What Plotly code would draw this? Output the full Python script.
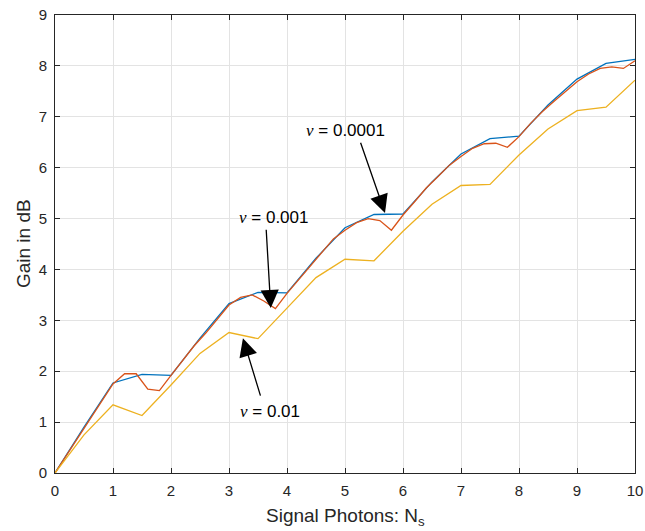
import plotly.graph_objects as go

# nu = 0.0001 (blue), step 0.5
x_blue = [0, 0.5, 1, 1.5, 2, 2.5, 3, 3.5, 4, 4.5, 5, 5.5, 6, 6.5, 7, 7.5, 8, 8.5, 9, 9.5, 10]
y_blue = [0, 0.9, 1.77, 1.94, 1.92, 2.65, 3.33, 3.55, 3.54, 4.22, 4.82, 5.08, 5.09, 5.72, 6.27, 6.57, 6.62, 7.23, 7.74, 8.05, 8.13]

# nu = 0.001 (red), step 0.2
x_red = [round(0.2 * i, 1) for i in range(51)]
y_red = [0, 0.35, 0.72, 1.07, 1.42, 1.75, 1.95, 1.95, 1.65, 1.62, 1.92,
         2.2, 2.5, 2.75, 3.02, 3.3, 3.45, 3.5, 3.38, 3.23, 3.53,
         3.8, 4.07, 4.35, 4.6, 4.77, 4.92, 5.0, 4.96, 4.77, 5.07,
         5.33, 5.6, 5.82, 6.05, 6.22, 6.38, 6.47, 6.48, 6.4, 6.61,
         6.87, 7.1, 7.3, 7.5, 7.69, 7.84, 7.95, 7.98, 7.95, 8.1]

# nu = 0.01 (yellow), step 0.5
x_yel = [0, 0.5, 1, 1.5, 2, 2.5, 3, 3.5, 4, 4.5, 5, 5.5, 6, 6.5, 7, 7.5, 8, 8.5, 9, 9.5, 10]
y_yel = [0, 0.75, 1.34, 1.13, 1.73, 2.35, 2.76, 2.64, 3.24, 3.84, 4.2, 4.17, 4.75, 5.28, 5.65, 5.67, 6.25, 6.76, 7.12, 7.19, 7.72]

x_ticks = list(range(0, 11))
y_ticks = list(range(0, 10))

x_title = "Signal Photons: N<sub>s</sub>"
y_title = "Gain in dB"

# annotation labels
nu_labels = ["0.0001", "0.001", "0.01"]
label_pos = [(5.0, 6.74), (3.76, 5.03), (3.71, 1.2)]
arrow_tail = [(5.26, 6.52), (3.64, 4.81), (3.55, 1.49)]
arrow_head = [(5.69, 5.11), (3.72, 3.24), (3.24, 2.65)]

FONT = "Liberation Sans, Arial, sans-serif"
AX_COLOR = "#262626"

fig = go.Figure()
fig.add_trace(go.Scatter(x=x_blue, y=y_blue, mode="lines", line=dict(color="#0072BD", width=1.3), showlegend=False))
fig.add_trace(go.Scatter(x=x_red, y=y_red, mode="lines", line=dict(color="#D95319", width=1.3), showlegend=False))
fig.add_trace(go.Scatter(x=x_yel, y=y_yel, mode="lines", line=dict(color="#EDB120", width=1.3), showlegend=False))

for lab, (tx, ty), (ax_, ay_), (hx, hy) in zip(nu_labels, label_pos, arrow_tail, arrow_head):
    fig.add_annotation(x=tx, y=ty, xref="x", yref="y", showarrow=False,
                       text='<span style="font-family:Liberation Serif"><i>ν</i></span> = ' + lab,
                       font=dict(family=FONT, size=17, color="#000000"))
    fig.add_annotation(x=hx, y=hy, ax=ax_, ay=ay_, xref="x", yref="y", axref="x", ayref="y",
                       text="", showarrow=True, arrowhead=2, arrowsize=2.8, arrowwidth=1.3,
                       arrowcolor="#000000", standoff=0, startstandoff=0)

# axis titles placed as paper annotations for exact positioning
fig.add_annotation(x=0.5, y=-0.096, xref="paper", yref="paper", showarrow=False,
                   text=x_title, xanchor="center", yanchor="middle",
                   font=dict(family=FONT, size=19, color=AX_COLOR))
fig.add_annotation(x=-0.055, y=0.5, xref="paper", yref="paper", showarrow=False,
                   text=y_title, textangle=-90, xanchor="center", yanchor="middle",
                   font=dict(family=FONT, size=19, color=AX_COLOR))

axis_common = dict(
    showgrid=True, gridcolor="#e3e3e3", gridwidth=1,
    showline=True, linecolor=AX_COLOR, linewidth=1, mirror="ticks",
    ticks="inside", ticklen=5, tickcolor=AX_COLOR,
    zeroline=False, automargin=False,
    tickfont=dict(family=FONT, size=15, color=AX_COLOR),
)

fig.update_xaxes(range=[0, 10], tickvals=x_ticks, ticklabelstandoff=4, **axis_common)
fig.update_yaxes(range=[0, 9], tickvals=y_ticks, ticklabelstandoff=4, **axis_common)

fig.update_layout(
    width=645, height=531,
    margin=dict(l=55, r=10, t=15, b=58, autoexpand=False),
    plot_bgcolor="white", paper_bgcolor="white",
)

# remove the default page margin so the figure sits at the window's top-left corner
fig.write_html("out.html",
               config={"displayModeBar": False},
               post_script="document.body.style.margin='0';document.body.style.padding='0';")
